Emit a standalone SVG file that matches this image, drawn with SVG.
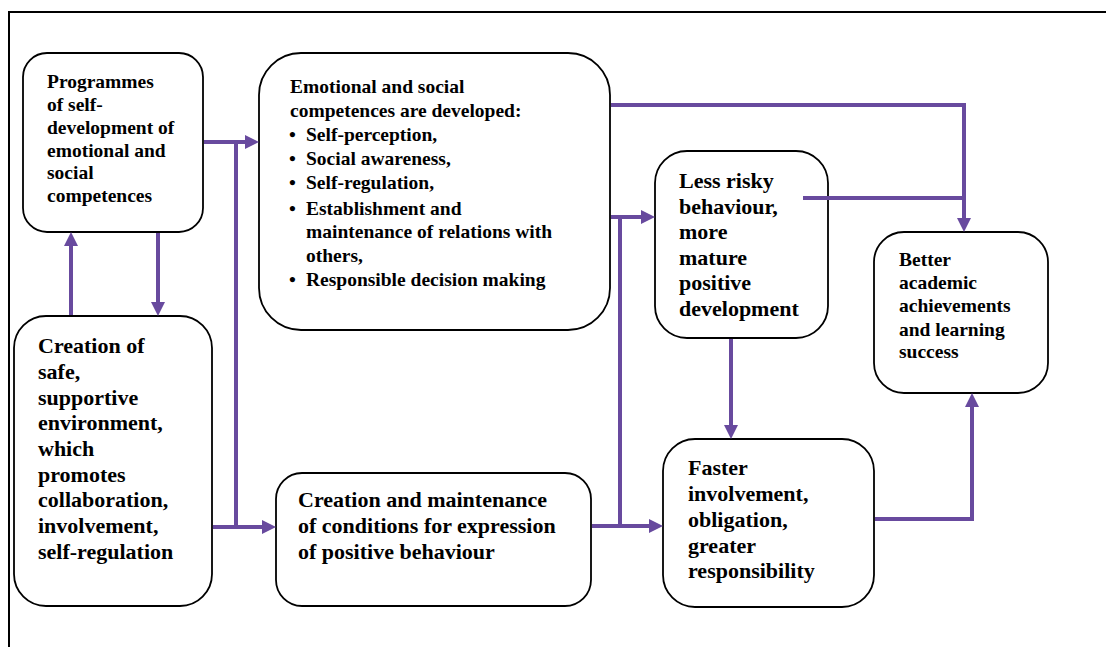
<svg xmlns="http://www.w3.org/2000/svg" width="1106" height="647" viewBox="0 0 1106 647">
<style>
.box{fill:#fff;stroke:#000;stroke-width:1.8}
.t{font-family:'Liberation Serif','Times New Roman',Times,'DejaVu Serif',serif;font-weight:bold;fill:#000}
.c{fill:none;stroke:#684A9E;stroke-width:4}
</style>
<defs>
<marker id="ah" viewBox="0 0 14 14" refX="6" refY="7" markerWidth="14" markerHeight="14" markerUnits="userSpaceOnUse" orient="auto">
<path d="M0,0 L14,7 L0,14 z" fill="#684A9E"/>
</marker>
</defs>
<rect width="1106" height="647" fill="#fff"/>
<path d="M9,647 V12 H1106" fill="none" stroke="#000" stroke-width="2"/>

<g id="n-programmes">
<rect class="box" x="23" y="53" width="180" height="179" rx="24"/>
<text class="t" font-size="19.5">
<tspan x="47" y="88">Programmes</tspan>
<tspan x="47" y="111">of self-</tspan>
<tspan x="47" y="134">development of</tspan>
<tspan x="47" y="157">emotional and</tspan>
<tspan x="47" y="179">social</tspan>
<tspan x="47" y="202">competences</tspan>
</text>
</g>

<g id="n-emotional">
<rect class="box" x="259" y="53" width="351" height="277" rx="42"/>
<text class="t" font-size="19.5">
<tspan x="290" y="93">Emotional and social</tspan>
<tspan x="290" y="117">competences are developed:</tspan>
<tspan x="289" y="141">•</tspan><tspan x="306" y="141">Self-perception,</tspan>
<tspan x="289" y="165">•</tspan><tspan x="306" y="165">Social awareness,</tspan>
<tspan x="289" y="189">•</tspan><tspan x="306" y="189">Self-regulation,</tspan>
<tspan x="289" y="215">•</tspan><tspan x="306" y="215">Establishment and</tspan>
<tspan x="306" y="238">maintenance of relations with</tspan>
<tspan x="306" y="262">others,</tspan>
<tspan x="289" y="286">•</tspan><tspan x="306" y="286">Responsible decision making</tspan>
</text>
</g>

<g id="n-lessrisky">
<rect class="box" x="655" y="151" width="173" height="187" rx="32"/>
<text class="t" font-size="22">
<tspan x="679" y="188">Less risky</tspan>
<tspan x="679" y="214">behaviour,</tspan>
<tspan x="679" y="239">more</tspan>
<tspan x="679" y="265">mature</tspan>
<tspan x="679" y="290">positive</tspan>
<tspan x="679" y="316">development</tspan>
</text>
</g>

<g id="n-better">
<rect class="box" x="874" y="232" width="174" height="161" rx="30"/>
<text class="t" font-size="19.5">
<tspan x="899" y="266">Better</tspan>
<tspan x="899" y="289">academic</tspan>
<tspan x="899" y="312">achievements</tspan>
<tspan x="899" y="336">and learning</tspan>
<tspan x="899" y="358">success</tspan>
</text>
</g>

<g id="n-safe">
<rect class="box" x="14" y="316" width="198" height="290" rx="32"/>
<text class="t" font-size="22">
<tspan x="38" y="353">Creation of</tspan>
<tspan x="38" y="379">safe,</tspan>
<tspan x="38" y="405">supportive</tspan>
<tspan x="38" y="430">environment,</tspan>
<tspan x="38" y="456">which</tspan>
<tspan x="38" y="482">promotes</tspan>
<tspan x="38" y="507">collaboration,</tspan>
<tspan x="38" y="533">involvement,</tspan>
<tspan x="38" y="559">self-regulation</tspan>
</text>
</g>

<g id="n-conditions">
<rect class="box" x="276" y="473" width="315" height="133" rx="26"/>
<text class="t" font-size="22">
<tspan x="298" y="507">Creation and maintenance</tspan>
<tspan x="298" y="533">of conditions for expression</tspan>
<tspan x="298" y="559">of positive behaviour</tspan>
</text>
</g>

<g id="n-faster">
<rect class="box" x="663" y="439" width="211" height="168" rx="32"/>
<text class="t" font-size="22">
<tspan x="688" y="475">Faster</tspan>
<tspan x="688" y="501">involvement,</tspan>
<tspan x="688" y="527">obligation,</tspan>
<tspan x="688" y="553">greater</tspan>
<tspan x="688" y="578">responsibility</tspan>
</text>
</g>

<g id="connectors">
<path class="c" d="M204,142 H251" marker-end="url(#ah)"/>
<path class="c" d="M213,527 H268" marker-end="url(#ah)"/>
<path class="c" d="M236,142 V527"/>
<path class="c" d="M158,233 V308" marker-end="url(#ah)"/>
<path class="c" d="M71,315 V240" marker-end="url(#ah)"/>
<path class="c" d="M611,105 H964 V224" marker-end="url(#ah)"/>
<path class="c" d="M803,198 H964"/>
<path class="c" d="M611,217 H647" marker-end="url(#ah)"/>
<path class="c" d="M592,526 H655" marker-end="url(#ah)"/>
<path class="c" d="M620,217 V526"/>
<path class="c" d="M731,339 V431" marker-end="url(#ah)"/>
<path class="c" d="M875,519 H972 V401" marker-end="url(#ah)"/>
</g>
</svg>
